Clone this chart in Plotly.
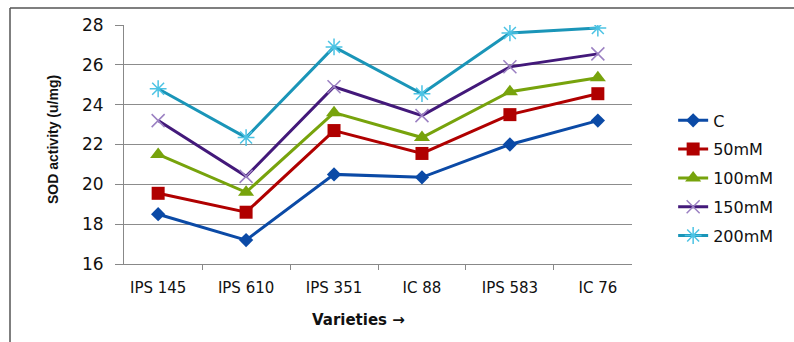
import plotly.graph_objects as go

# Varieties on the x axis
varieties = ["IPS 145", "IPS 610", "IPS 351", "IC 88", "IPS 583", "IC 76"]

# SOD activity (u/mg) per salt treatment
sod_c = [18.5, 17.2, 20.5, 20.35, 22.0, 23.2]
sod_50 = [19.55, 18.6, 22.7, 21.55, 23.5, 24.55]
sod_100 = [21.5, 19.6, 23.6, 22.35, 24.65, 25.35]
sod_150 = [23.2, 20.4, 24.9, 23.45, 25.9, 26.55]
sod_200 = [24.8, 22.35, 26.9, 24.55, 27.6, 27.85]

series_names = ["C", "50mM", "100mM", "150mM", "200mM"]
series_values = [sod_c, sod_50, sod_100, sod_150, sod_200]

line_colors = ["#0B4AA6", "#B00000", "#77A30C", "#43197A", "#1A95B8"]
marker_styles = [
    dict(symbol="diamond", size=11, color="#0B4AA6"),
    dict(symbol="square", size=13, color="#B00000"),
    dict(symbol="triangle-up", size=14, color="#77A30C"),
    dict(symbol="x-thin-open", size=13, color="#9B80C2", line=dict(width=1.5, color="#9B80C2")),
    dict(symbol="asterisk-open", size=14, color="#4CC3E4", line=dict(width=1.5, color="#4CC3E4")),
]

fig = go.Figure()
for name, vals, lc, mk in zip(series_names, series_values, line_colors, marker_styles):
    fig.add_trace(go.Scatter(
        x=varieties, y=vals, name=name, mode="lines+markers",
        line=dict(color=lc, width=3),
        marker=mk,
        legendgroup=name,
    ))

fig.update_layout(
    width=794, height=342,
    margin=dict(l=124, r=162, t=25, b=78),
    paper_bgcolor="white", plot_bgcolor="white",
    font=dict(family="DejaVu Sans", color="#111"),
    showlegend=True,
    legend=dict(
        x=1.081, xanchor="left", y=0.672, yanchor="top",
        font=dict(family="DejaVu Sans", size=16, color="#111"),
        tracegroupgap=5, traceorder="grouped",
        bgcolor="rgba(0,0,0,0)",
    ),
    xaxis=dict(
        type="category", tickson="boundaries",
        showgrid=False, showline=True, linecolor="#888", linewidth=1,
        ticks="outside", ticklen=5, tickcolor="#888",
        ticklabelstandoff=10,
        tickfont=dict(family="DejaVu Sans", size=15, color="#111"),
    ),
    yaxis=dict(
        range=[16, 28], dtick=2, tick0=16,
        showgrid=True, gridcolor="#8C8C8C", gridwidth=1,
        showline=True, linecolor="#888", linewidth=1,
        ticks="outside", ticklen=8, tickcolor="#888",
        ticklabelstandoff=8,
        tickfont=dict(family="DejaVu Sans", size=17, color="#111"),
        zeroline=False,
    ),
    annotations=[
        dict(text="<b>SOD activity (u/mg)</b>", xref="paper", yref="paper",
             x=(53 - 124) / 508, y=(264 - 140) / 239, textangle=-90, showarrow=False,
             font=dict(family="Liberation Sans", size=14, color="#111"),
             xanchor="center", yanchor="middle"),
        dict(text="<b>Varieties →</b>", xref="paper", yref="paper",
             x=(358 - 124) / 508, y=-(320 - 264) / 239, showarrow=False,
             font=dict(family="DejaVu Sans", size=15, color="#111"),
             xanchor="center", yanchor="middle"),
    ],
    shapes=[
        dict(type="line", xref="paper", yref="paper",
             x0=(10 - 124) / 508, x1=(10 - 124) / 508,
             y0=(264 - 8) / 239, y1=(264 - 360) / 239,
             line=dict(color="#555", width=1.5)),
        dict(type="line", xref="paper", yref="paper",
             x0=(10 - 124) / 508, x1=(820 - 124) / 508,
             y0=(264 - 8) / 239, y1=(264 - 8) / 239,
             line=dict(color="#555", width=1.5)),
    ],
)

fig.write_html("out.html")
